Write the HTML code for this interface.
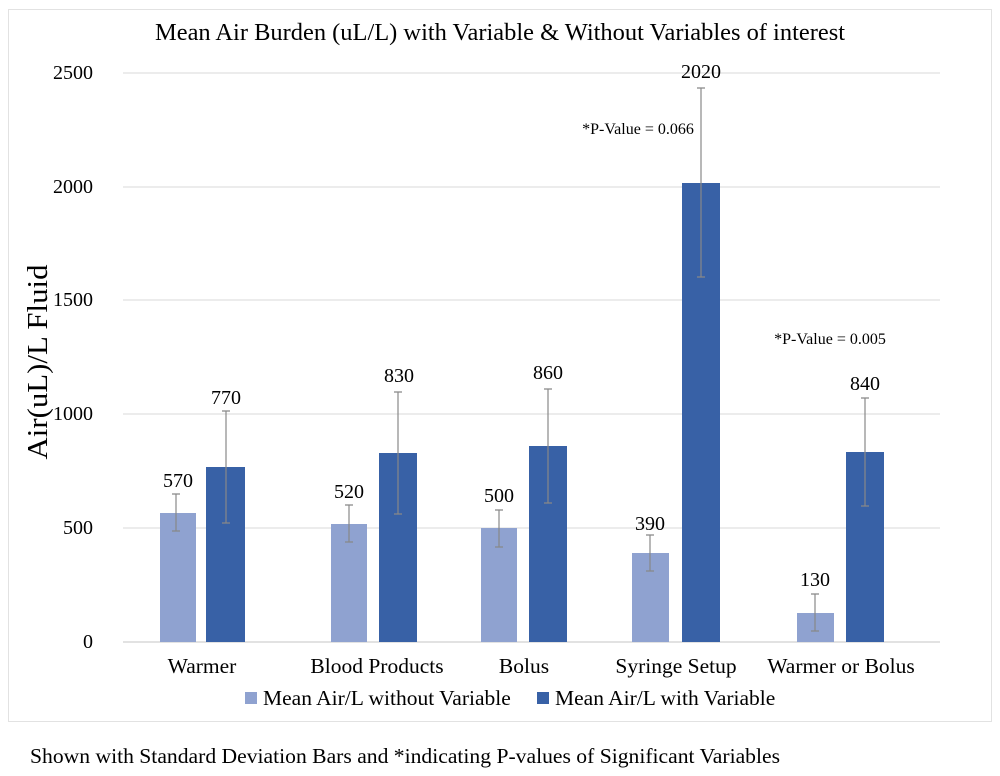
<!DOCTYPE html>
<html><head><style>body{margin:0;background:#fff}svg{display:block}</style></head><body>
<svg width="1000" height="776" xmlns="http://www.w3.org/2000/svg" font-family="Liberation Serif, serif">
<rect x="8.5" y="9.5" width="983" height="712" fill="#fff" stroke="#e2e2e2"/>
<text x="500" y="40" font-size="24" text-anchor="middle" textLength="690" lengthAdjust="spacingAndGlyphs">Mean Air Burden (uL/L) with Variable &amp; Without Variables of interest</text>
<g stroke="#e6e6e6" stroke-width="1.5">
<line x1="123" x2="940" y1="73" y2="73"/><line x1="123" x2="940" y1="187" y2="187"/>
<line x1="123" x2="940" y1="300" y2="300"/><line x1="123" x2="940" y1="414" y2="414"/>
<line x1="123" x2="940" y1="528" y2="528"/><line x1="123" x2="940" y1="642" y2="642" stroke="#d9d9d9"/>
</g>
<g font-size="20" text-anchor="end">
<text x="93" y="79">2500</text><text x="93" y="193">2000</text><text x="93" y="306">1500</text>
<text x="93" y="420">1000</text><text x="93" y="534">500</text><text x="93" y="648">0</text>
</g>
<text transform="translate(47,362) rotate(-90)" font-size="28" text-anchor="middle" textLength="195" lengthAdjust="spacingAndGlyphs">Air(uL)/L Fluid</text>
<g fill="#8fa2d0">
<rect x="160" y="513" width="36" height="129"/><rect x="331" y="524" width="36" height="118"/>
<rect x="481" y="528" width="36" height="114"/><rect x="632" y="553" width="37" height="89"/>
<rect x="797" y="613" width="37" height="29"/>
</g>
<g fill="#3861a6">
<rect x="206" y="467" width="39" height="175"/><rect x="379" y="453" width="38" height="189"/>
<rect x="529" y="446" width="38" height="196"/><rect x="682" y="183" width="38" height="459"/>
<rect x="846" y="452" width="38" height="190"/>
</g>
<g stroke="#888" stroke-width="1.2">
<path d="M176 494V531M172 494h8M172 531h8"/>
<path d="M226 411V523M222 411h8M222 523h8"/>
<path d="M349 505V542M345 505h8M345 542h8"/>
<path d="M398 392V514M394 392h8M394 514h8"/>
<path d="M499 510V547M495 510h8M495 547h8"/>
<path d="M548 389V503M544 389h8M544 503h8"/>
<path d="M650 535V571M646 535h8M646 571h8"/>
<path d="M701 88V277M697 88h8M697 277h8"/>
<path d="M815 594V631M811 594h8M811 631h8"/>
<path d="M865 398V506M861 398h8M861 506h8"/>
</g>
<g font-size="20" text-anchor="middle">
<text x="178" y="487">570</text><text x="226" y="404">770</text>
<text x="349" y="498">520</text><text x="399" y="382">830</text>
<text x="499" y="502">500</text><text x="548" y="379">860</text>
<text x="650" y="530">390</text><text x="701" y="78">2020</text>
<text x="815" y="586">130</text><text x="865" y="390">840</text>
</g>
<g font-size="16" text-anchor="middle">
<text x="638" y="134">*P-Value = 0.066</text>
<text x="830" y="344">*P-Value = 0.005</text>
</g>
<g font-size="21.5" text-anchor="middle">
<text x="202" y="673">Warmer</text><text x="377" y="673">Blood Products</text>
<text x="524" y="673">Bolus</text><text x="676" y="673">Syringe Setup</text>
<text x="841" y="673">Warmer or Bolus</text>
</g>
<rect x="245" y="692" width="12" height="12" fill="#8fa2d0"/>
<text x="263" y="705" font-size="21.5">Mean Air/L without Variable</text>
<rect x="537" y="692" width="12" height="12" fill="#3861a6"/>
<text x="555" y="705" font-size="21.5">Mean Air/L with Variable</text>
<text x="30" y="763" font-size="21.5" textLength="750" lengthAdjust="spacingAndGlyphs">Shown with Standard Deviation Bars and *indicating P-values of Significant Variables</text>
</svg>
</body></html>
